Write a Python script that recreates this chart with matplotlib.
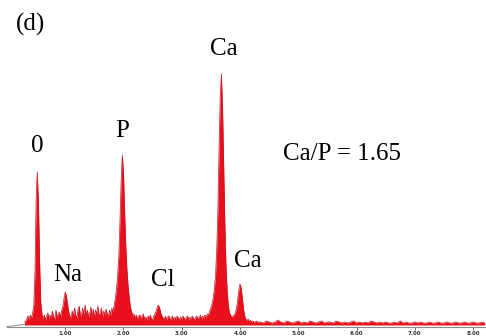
import matplotlib
import matplotlib.pyplot as plt
import numpy as np

matplotlib.rcParams["font.family"] = ["Liberation Serif", "DejaVu Serif"]

# EDS spectrum (counts in arbitrary units)
# main part: 0.30 .. 4.30 keV, step 0.02 keV
energy_main = np.round(np.arange(0.30, 4.30 + 1e-9, 0.02), 2)
counts_main = [
    3, 4, 6, 9, 5, 10, 7, 12, 20, 52,
    125, 153, 122, 62, 22, 11, 6, 10, 5, 9,
    12, 6, 10, 7, 14, 8, 6, 15, 8, 11,
    13, 8, 15, 19, 27, 33, 29, 21, 13, 9,
    7, 14, 9, 17, 10, 7, 16, 19, 9, 11,
    17, 10, 20, 9, 15, 8, 12, 18, 9, 16,
    8, 15, 11, 19, 9, 12, 17, 8, 14, 10,
    16, 11, 8, 15, 10, 17, 13, 20, 27, 36,
    50, 70, 105, 145, 170, 152, 112, 78, 54, 38,
    26, 18, 13, 9, 11, 7, 10, 6, 9, 10,
    6, 9, 11, 6, 8, 5, 9, 7, 10, 6,
    5, 9, 11, 14, 18, 20, 17, 12, 9, 7,
    6, 9, 5, 8, 9, 5, 7, 9, 5, 8,
    6, 9, 7, 5, 8, 6, 9, 7, 5, 8,
    9, 5, 8, 6, 9, 7, 5, 8, 9, 6,
    8, 10, 6, 9, 7, 10, 8, 11, 10, 14,
    17, 21, 27, 36, 50, 75, 115, 175, 228, 251,
    218, 158, 100, 58, 33, 19, 12, 10, 8, 9,
    10, 12, 17, 25, 35, 41, 37, 27, 16, 9,
    6, 4, 6, 3, 5, 3, 4, 3, 3, 4,
    3,
]
# tail: 4.35 .. 8.20 keV, step 0.05 keV
energy_tail = np.round(np.arange(4.35, 8.20 + 1e-9, 0.05), 2)
counts_tail = [
    3, 2, 4, 3, 2, 3, 5, 3, 2, 4,
    3, 2, 3, 4, 2, 3, 2, 4, 3, 2,
    3, 4, 2, 3, 3, 2, 4, 3, 2, 3,
    2, 3, 4, 2, 3, 2, 3, 2, 4, 3,
    2, 3, 2, 3, 2, 2, 3, 2, 4, 2,
    3, 2, 2, 3, 2, 3, 2, 2, 3, 2,
    2, 3, 2, 2, 3, 2, 2, 3, 2, 2,
    3, 2, 2, 3, 2, 2, 3, 2,
]
# grey lead-in of the trace below the first channel
lead_energy = [0.0, 0.30]
lead_counts = [-1.5, 0.5]

tick_values = [1, 2, 3, 4, 5, 6, 7, 8]
tick_labels = ["1.00", "2.00", "3.00", "4.00", "5.00", "6.00", "7.00", "8.00"]

peak_labels = ["0", "Na", "P", "Cl", "Ca", "Ca"]
peak_label_x = [0.524, 1.039, 1.974, 2.670, 3.725, 4.137]
peak_label_y = [173, 44, 188, 39, 270, 58]

energy = np.concatenate([energy_main, energy_tail])
counts = np.array(counts_main + counts_tail, dtype=float)

fig = plt.figure(figsize=(4.86, 3.36), dpi=100)
ax = fig.add_axes([0, 9 / 336, 1, 327 / 336])

ax.fill_between(energy, 0, counts, color="#e8101c", linewidth=0)
ax.plot(energy, counts, color="#c8141e", linewidth=0.5)
ax.plot(lead_energy, lead_counts, color="#9a9a9a", linewidth=0.8)

ax.set_xlim(-0.120, 8.223)
ax.set_ylim(-2, 325)

for side in ["left", "right", "top"]:
    ax.spines[side].set_visible(False)
ax.spines["bottom"].set_bounds(0, 8.223)
ax.spines["bottom"].set_color("#8a8a8a")
ax.spines["bottom"].set_linewidth(0.8)

ax.set_yticks([])
ax.set_xticks(tick_values)
ax.set_xticklabels(tick_labels, fontsize=4, fontweight="bold",
                   family="DejaVu Sans", color="#333333")
ax.tick_params(axis="x", length=2, width=0.6, color="#555555", pad=1)

for label, x, y in zip(peak_labels, peak_label_x, peak_label_y):
    ax.text(x, y, label, fontsize=18, ha="center", va="baseline")

ax.text(5.751, 165, "Ca/P = 1.65", fontsize=18, ha="center", va="baseline")

fig.text(30.5 / 486, 1 - 24 / 336, "(d)", fontsize=18, ha="center", va="center")

fig.savefig("out.png", dpi=100)
